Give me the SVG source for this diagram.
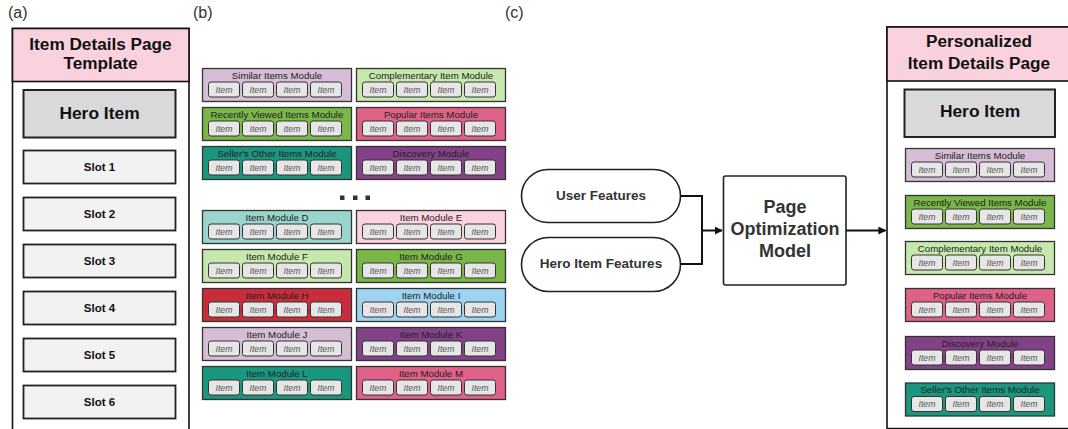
<svg xmlns="http://www.w3.org/2000/svg" xmlns:xlink="http://www.w3.org/1999/xlink" width="1068" height="429" viewBox="0 0 1068 429">
  <style>
    .lbl { font-family: "Liberation Sans", Arial, sans-serif; font-size: 16px; fill: #333; }
    .hdr { font-family: "Liberation Sans", Arial, sans-serif; font-size: 17.2px; font-weight: bold; fill: #111; text-anchor: middle; }
    .hero { font-family: "Liberation Sans", Arial, sans-serif; font-size: 17.4px; font-weight: bold; fill: #111; text-anchor: middle; }
    .slot { font-family: "Liberation Sans", Arial, sans-serif; font-size: 11.5px; font-weight: bold; fill: #111; text-anchor: middle; }
    .feat { font-family: "Liberation Sans", Arial, sans-serif; font-size: 13.5px; font-weight: bold; fill: #333; text-anchor: middle; }
    .model { font-family: "Liberation Sans", Arial, sans-serif; font-size: 18px; font-weight: bold; fill: #333; text-anchor: middle; }
    .mt { font-family: "Liberation Sans", Arial, sans-serif; font-size: 9.7px; fill: #222; text-anchor: middle; }
    .it { font-family: "Liberation Sans", Arial, sans-serif; font-size: 8.7px; font-style: italic; fill: #555; text-anchor: middle; }
    .frame { fill: #fff; stroke: #111; stroke-width: 1.6; }
    .pink { fill: #f9d2de; stroke: #111; stroke-width: 1.6; }
    .herobox { fill: #d9d9d9; stroke: #222; stroke-width: 2; }
    .slotbox { fill: #f2f2f2; stroke: #222; stroke-width: 1.8; }
    .mod { stroke: #333; stroke-width: 1.3; }
    .itembox { fill: #e6e6e6; stroke: #333; stroke-width: 1; }
    .pill { fill: #fff; stroke: #222; stroke-width: 1.6; }
    .conn { fill: none; stroke: #111; stroke-width: 2; }
    .c-lpur { fill: #d5bdd5; }
    .c-lgrn { fill: #c7e8ac; }
    .c-grn { fill: #7ab648; }
    .c-pnk { fill: #df6187; }
    .c-teal { fill: #19967d; }
    .c-pur { fill: #834187; }
    .c-lteal { fill: #99d5ca; }
    .c-lpnk { fill: #fad3de; }
    .c-red { fill: #c92d39; }
    .c-lblu { fill: #9dd3f0; }
  </style>
  <defs>
    <!-- row of four item tiles, positioned relative to a module's top-left corner -->
    <g id="items">
      <rect class="itembox" x="6" y="13.5" width="31" height="15" rx="2.5"/>
      <rect class="itembox" x="40" y="13.5" width="31" height="15" rx="2.5"/>
      <rect class="itembox" x="74" y="13.5" width="31" height="15" rx="2.5"/>
      <rect class="itembox" x="108" y="13.5" width="31" height="15" rx="2.5"/>
      <text class="it" x="21.5" y="24.3">Item</text>
      <text class="it" x="55.5" y="24.3">Item</text>
      <text class="it" x="89.5" y="24.3">Item</text>
      <text class="it" x="123.5" y="24.3">Item</text>
    </g>
    <marker id="arrow" viewBox="0 0 10 10" refX="9" refY="5" markerWidth="4" markerHeight="4" orient="auto" markerUnits="strokeWidth">
      <path d="M0,0 L10,5 L0,10 Z" fill="#111"/>
    </marker>
  </defs>

  <!-- panel labels -->
  <text class="lbl" x="8" y="18">(a)</text>
  <text class="lbl" x="193" y="18">(b)</text>
  <text class="lbl" x="505" y="18">(c)</text>

  <!-- (a) page template -->
  <g id="template">
    <path class="frame" d="M12.5,440 V28.5 H189 V440"/>
    <rect class="pink" x="12.5" y="28.5" width="176.5" height="53"/>
    <text class="hdr" x="100.5" y="49.5">Item Details Page</text>
    <text class="hdr" x="100.5" y="69">Template</text>
  </g>
  <g id="template-hero">
    <rect class="herobox" x="23.5" y="90" width="152" height="47.5"/>
    <text class="hero" x="99.5" y="118.5">Hero Item</text>
  </g>
  <g id="slot1"><rect class="slotbox" x="23.5" y="150.5" width="152" height="33"/><text class="slot" x="99.5" y="171">Slot 1</text></g>
  <g id="slot2"><rect class="slotbox" x="23.5" y="197.5" width="152" height="33"/><text class="slot" x="99.5" y="218">Slot 2</text></g>
  <g id="slot3"><rect class="slotbox" x="23.5" y="244.5" width="152" height="33"/><text class="slot" x="99.5" y="265">Slot 3</text></g>
  <g id="slot4"><rect class="slotbox" x="23.5" y="291.5" width="152" height="33"/><text class="slot" x="99.5" y="312">Slot 4</text></g>
  <g id="slot5"><rect class="slotbox" x="23.5" y="338.5" width="152" height="33"/><text class="slot" x="99.5" y="359">Slot 5</text></g>
  <g id="slot6"><rect class="slotbox" x="23.5" y="385.5" width="152" height="33"/><text class="slot" x="99.5" y="406">Slot 6</text></g>

  <!-- (b) module library -->
  <g id="mod-similar" transform="translate(202.5,68.5)">
    <rect class="mod c-lpur" width="149" height="33"/><text class="mt" x="74.5" y="10">Similar Items Module</text><use href="#items"/>
  </g>
  <g id="mod-complementary" transform="translate(356.5,68.5)">
    <rect class="mod c-lgrn" width="149" height="33"/><text class="mt" x="74.5" y="10">Complementary Item Module</text><use href="#items"/>
  </g>
  <g id="mod-recent" transform="translate(202.5,107.5)">
    <rect class="mod c-grn" width="149" height="33"/><text class="mt" x="74.5" y="10">Recently Viewed Items Module</text><use href="#items"/>
  </g>
  <g id="mod-popular" transform="translate(356.5,107.5)">
    <rect class="mod c-pnk" width="149" height="33"/><text class="mt" x="74.5" y="10">Popular Items Module</text><use href="#items"/>
  </g>
  <g id="mod-seller" transform="translate(202.5,146.5)">
    <rect class="mod c-teal" width="149" height="33"/><text class="mt" x="74.5" y="10">Seller's Other Items Module</text><use href="#items"/>
  </g>
  <g id="mod-discovery" transform="translate(356.5,146.5)">
    <rect class="mod c-pur" width="149" height="33"/><text class="mt" x="74.5" y="10">Discovery Module</text><use href="#items"/>
  </g>

  <!-- ellipsis -->
  <g id="ellipsis" fill="#333">
    <rect x="340" y="195.5" width="4.5" height="4.5"/>
    <rect x="353" y="195.5" width="4.5" height="4.5"/>
    <rect x="365.5" y="195.5" width="4.5" height="4.5"/>
  </g>

  <g id="mod-d" transform="translate(202.5,210.5)">
    <rect class="mod c-lteal" width="149" height="33"/><text class="mt" x="74.5" y="10">Item Module D</text><use href="#items"/>
  </g>
  <g id="mod-e" transform="translate(356.5,210.5)">
    <rect class="mod c-lpnk" width="149" height="33"/><text class="mt" x="74.5" y="10">Item Module E</text><use href="#items"/>
  </g>
  <g id="mod-f" transform="translate(202.5,249.5)">
    <rect class="mod c-lgrn" width="149" height="33"/><text class="mt" x="74.5" y="10">Item Module F</text><use href="#items"/>
  </g>
  <g id="mod-g" transform="translate(356.5,249.5)">
    <rect class="mod c-grn" width="149" height="33"/><text class="mt" x="74.5" y="10">Item Module G</text><use href="#items"/>
  </g>
  <g id="mod-h" transform="translate(202.5,288.5)">
    <rect class="mod c-red" width="149" height="33"/><text class="mt" x="74.5" y="10">Item Module H</text><use href="#items"/>
  </g>
  <g id="mod-i" transform="translate(356.5,288.5)">
    <rect class="mod c-lblu" width="149" height="33"/><text class="mt" x="74.5" y="10">Item Module I</text><use href="#items"/>
  </g>
  <g id="mod-j" transform="translate(202.5,327.5)">
    <rect class="mod c-lpur" width="149" height="33"/><text class="mt" x="74.5" y="10">Item Module J</text><use href="#items"/>
  </g>
  <g id="mod-k" transform="translate(356.5,327.5)">
    <rect class="mod c-pur" width="149" height="33"/><text class="mt" x="74.5" y="10">Item Module K</text><use href="#items"/>
  </g>
  <g id="mod-l" transform="translate(202.5,366.5)">
    <rect class="mod c-teal" width="149" height="33"/><text class="mt" x="74.5" y="10">Item Module L</text><use href="#items"/>
  </g>
  <g id="mod-m" transform="translate(356.5,366.5)">
    <rect class="mod c-pnk" width="149" height="33"/><text class="mt" x="74.5" y="10">Item Module M</text><use href="#items"/>
  </g>

  <!-- (c) inputs and model -->
  <g id="user-features">
    <rect class="pill" x="521.5" y="169.5" width="159" height="53" rx="26.5"/>
    <text class="feat" x="601" y="200">User Features</text>
  </g>
  <g id="hero-features">
    <rect class="pill" x="521.5" y="237.5" width="159" height="54" rx="27"/>
    <text class="feat" x="601" y="268">Hero Item Features</text>
  </g>
  <g id="model">
    <rect x="723.5" y="176" width="122.5" height="109" rx="2" fill="#fff" stroke="#222" stroke-width="1.6"/>
    <text class="model" x="785" y="213">Page</text>
    <text class="model" x="785" y="235">Optimization</text>
    <text class="model" x="785" y="256.5">Model</text>
  </g>

  <!-- personalized page -->
  <g id="personalized">
    <path class="frame" d="M1072,428.5 H887 V27 H1072"/>
    <rect class="pink" x="887" y="27" width="185" height="54"/>
    <text class="hdr" x="979" y="47">Personalized</text>
    <text class="hdr" x="979" y="68.5">Item Details Page</text>
  </g>
  <g id="personalized-hero">
    <rect class="herobox" x="904.5" y="89.5" width="150.5" height="47.5"/>
    <text class="hero" x="980" y="117">Hero Item</text>
  </g>
  <g id="p-similar" transform="translate(905.5,148.5)">
    <rect class="mod c-lpur" width="149" height="33"/><text class="mt" x="74.5" y="10">Similar Items Module</text><use href="#items"/>
  </g>
  <g id="p-recent" transform="translate(905.5,195.5)">
    <rect class="mod c-grn" width="149" height="33"/><text class="mt" x="74.5" y="10">Recently Viewed Items Module</text><use href="#items"/>
  </g>
  <g id="p-complementary" transform="translate(905.5,241.5)">
    <rect class="mod c-lgrn" width="149" height="33"/><text class="mt" x="74.5" y="10">Complementary Item Module</text><use href="#items"/>
  </g>
  <g id="p-popular" transform="translate(905.5,288.5)">
    <rect class="mod c-pnk" width="149" height="33"/><text class="mt" x="74.5" y="10">Popular Items Module</text><use href="#items"/>
  </g>
  <g id="p-discovery" transform="translate(905.5,336.5)">
    <rect class="mod c-pur" width="149" height="33"/><text class="mt" x="74.5" y="10">Discovery Module</text><use href="#items"/>
  </g>
  <g id="p-seller" transform="translate(905.5,383)">
    <rect class="mod c-teal" width="149" height="33"/><text class="mt" x="74.5" y="10">Seller's Other Items Module</text><use href="#items"/>
  </g>

  <!-- connectors -->
  <g id="connectors">
    <path class="conn" d="M680.5,196 H702 V264 H680.5"/>
    <path class="conn" d="M702,230.5 H722" marker-end="url(#arrow)"/>
    <path class="conn" d="M846,230.5 H885.5" marker-end="url(#arrow)"/>
  </g>
</svg>
